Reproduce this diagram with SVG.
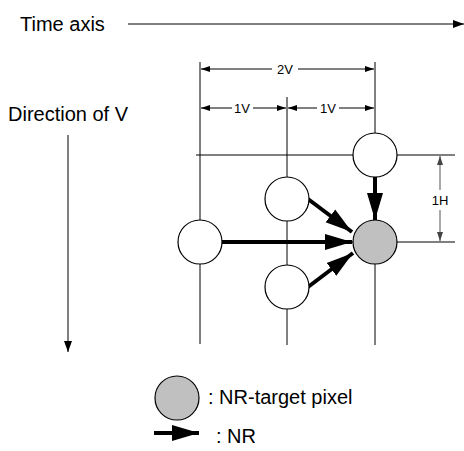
<svg xmlns="http://www.w3.org/2000/svg" width="464" height="451" viewBox="0 0 464 451">
<style>
text{font-family:"Liberation Sans",Arial,sans-serif;fill:#000}
.big{font-size:20px}
.small{font-size:13px}
.grid{stroke:#000;stroke-width:1;fill:none}
.dim{stroke:#000;stroke-width:1;fill:none}
.thick{stroke:#000;stroke-width:4;fill:none}
.px{fill:#fff;stroke:#000;stroke-width:1.2}
.tgt{fill:#c0c0c0;stroke:#000;stroke-width:1.2}
</style>
<defs>
<marker id="big" markerUnits="userSpaceOnUse" markerWidth="28" markerHeight="18" refX="27" refY="9" orient="auto"><path d="M0,1 L27,9 L0,17 z" fill="#000"/></marker>
<marker id="ax" markerUnits="userSpaceOnUse" markerWidth="12" markerHeight="10" refX="11" refY="5" orient="auto"><path d="M0,1 L11,5 L0,9 z" fill="#000"/></marker>
<marker id="dm" markerUnits="userSpaceOnUse" markerWidth="10" markerHeight="8" refX="9" refY="4" orient="auto"><path d="M0,1 L9,4 L0,7 z" fill="#000"/></marker>
<marker id="dg" markerUnits="userSpaceOnUse" markerWidth="10" markerHeight="8" refX="9" refY="4" orient="auto"><path d="M0,1 L9,4 L0,7 z" fill="#444"/></marker>
</defs>
<g id="labels">
<text class="big" x="20" y="31">Time axis</text>
<text class="big" x="8" y="121">Direction of V</text>
</g>
<g id="grid">
<line class="grid" x1="200" y1="62" x2="200" y2="344"/>
<line class="grid" x1="287" y1="97" x2="287" y2="345" stroke-width="1.6"/>
<line class="grid" x1="375" y1="62" x2="375" y2="345"/>
<line class="grid" x1="196" y1="155" x2="455" y2="155"/>
<line class="grid" x1="200" y1="242" x2="455" y2="242"/>
</g>
<g id="connectors">
<line class="dim" x1="128" y1="24" x2="464" y2="24" marker-end="url(#ax)"/>
<line class="dim" x1="68" y1="135" x2="68" y2="352" marker-end="url(#ax)"/>
<line class="dim" x1="272" y1="69" x2="201" y2="69" marker-end="url(#dm)"/>
<line class="dim" x1="298" y1="69" x2="374" y2="69" marker-end="url(#dm)"/>
<line class="dim" x1="232" y1="108" x2="201" y2="108" marker-end="url(#dm)"/>
<line class="dim" x1="253" y1="108" x2="286" y2="108" marker-end="url(#dm)"/>
<line class="dim" x1="317" y1="108" x2="288" y2="108" marker-end="url(#dm)"/>
<line class="dim" x1="339" y1="108" x2="374" y2="108" marker-end="url(#dm)"/>
<line x1="440" y1="190" x2="440" y2="156" stroke="#555" stroke-width="1" marker-end="url(#dg)"/>
<line x1="440" y1="210" x2="440" y2="241" stroke="#555" stroke-width="1" marker-end="url(#dg)"/>
<line class="thick" x1="220" y1="242" x2="352" y2="242" marker-end="url(#big)"/>
<line class="thick" x1="375" y1="177" x2="375" y2="220" marker-end="url(#big)"/>
<line class="thick" x1="308" y1="199" x2="352" y2="232" marker-end="url(#big)"/>
<line class="thick" x1="308" y1="287" x2="353" y2="253" marker-end="url(#big)"/>
<line class="thick" x1="154" y1="433" x2="199" y2="433" marker-end="url(#big)"/>
</g>
<g id="dimlabels">
<text class="small" x="285" y="74" text-anchor="middle">2V</text>
<text class="small" x="242" y="113" text-anchor="middle">1V</text>
<text class="small" x="328" y="113" text-anchor="middle">1V</text>
<text class="small" x="440" y="205" text-anchor="middle" fill="#444">1H</text>
</g>
<g id="p-top"><circle class="px" cx="375" cy="155" r="22"/></g>
<g id="p-left"><circle class="px" cx="200" cy="242" r="22"/></g>
<g id="p-upper"><circle class="px" cx="287" cy="199" r="22"/></g>
<g id="p-lower"><circle class="px" cx="287" cy="287" r="22"/></g>
<g id="p-target"><circle class="tgt" cx="375" cy="242" r="22"/></g>
<g id="legend">
<circle class="tgt" cx="177" cy="398" r="22"/>
<text class="big" x="208" y="404">: NR-target pixel</text>
<text class="big" x="216" y="443">: NR</text>
</g>
</svg>
